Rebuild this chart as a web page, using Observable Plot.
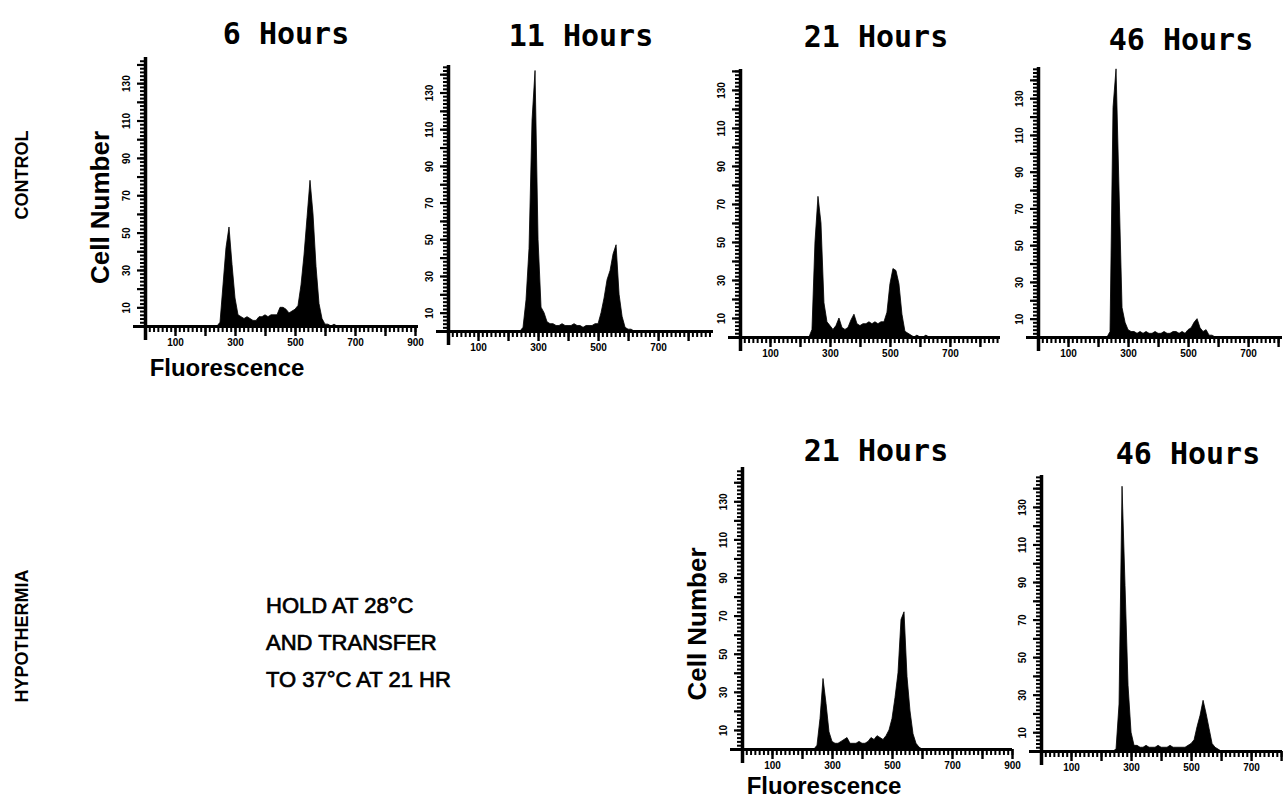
<!DOCTYPE html>
<html>
<head>
<meta charset="utf-8">
<script src="https://cdn.jsdelivr.net/npm/d3@7"></script>
<script src="https://cdn.jsdelivr.net/npm/@observablehq/plot@0.6"></script>
<style>
  body { margin: 0; background: #fff; }
  #fig { position: relative; width: 1284px; height: 802px; overflow: hidden; background: #fff; }
  #fig svg { position: absolute; }
</style>
</head>
<body>
<div id="fig"></div>
<script>
// Fluorescence channel at the start of each 10-channel bin (200 … 650)
const channels = d3.range(200, 660, 10);

// Cell counts per bin, one histogram per sample
const control6h = [
  0, 0, 0, 0, 0, 2, 22, 42, 53, 33,
  15, 6, 5, 4, 5, 4, 3, 3, 5, 5,
  6, 5, 6, 6, 6, 10, 10, 9, 7, 8,
  9, 11, 22, 38, 58, 78, 60, 32, 12, 4,
  1, 1, 0, 1, 0, 0
];
const control11h = [
  0, 0, 0, 0, 0, 2, 17, 45, 115, 142,
  50, 13, 10, 5, 4, 4, 3, 3, 4, 3,
  3, 3, 4, 3, 3, 2, 3, 3, 3, 4,
  4, 10, 18, 28, 33, 42, 47, 20, 8, 2,
  1, 1, 0, 0, 0, 0
];
const control21h = [
  0, 0, 0, 0, 4, 50, 74, 60, 18, 8,
  6, 4, 6, 10, 5, 4, 5, 9, 12, 7,
  6, 7, 7, 8, 7, 8, 7, 8, 8, 13,
  28, 36, 35, 28, 12, 3, 2, 1, 0, 1,
  0, 0, 1, 0, 0, 0
];
const control46h = [
  0, 0, 0, 0, 3, 125, 146, 80, 16, 8,
  4, 3, 3, 2, 3, 2, 3, 2, 2, 3,
  2, 2, 3, 2, 2, 3, 3, 2, 3, 2,
  4, 5, 8, 10, 5, 3, 4, 1, 1, 0,
  0, 0, 0, 0, 0, 0
];
const hypo21h = [
  0, 0, 0, 0, 0, 2, 16, 37, 24, 9,
  4, 3, 3, 4, 5, 6, 3, 3, 3, 4,
  3, 3, 4, 6, 5, 7, 6, 5, 7, 10,
  16, 27, 40, 68, 72, 38, 20, 8, 3, 1,
  0, 0, 0, 0, 0, 0
];
const hypo46h = [
  0, 0, 0, 0, 0, 1, 25, 141, 88, 35,
  10, 3, 3, 2, 2, 3, 2, 2, 2, 3,
  2, 2, 2, 3, 2, 2, 2, 2, 2, 3,
  4, 6, 13, 19, 27, 20, 12, 4, 2, 1,
  0, 0, 0, 0, 0, 0
];

// Texts
const timeLabels = ["6 Hours", "11 Hours", "21 Hours", "46 Hours", "21 Hours", "46 Hours"];
const xTickLabels = [100, 300, 500, 700, 900];
const yTickLabels = [10, 30, 50, 70, 90, 110, 130];
const rowLabels = ["CONTROL", "HYPOTHERMIA"];
const protocolNote = ["HOLD AT 28°C", "AND TRANSFER", "TO 37°C AT 21 HR"];
const xTitle = "Fluorescence";
const yTitle = "Cell Number";

// Panel frames on the page (pixels) and scale extents
const panels = [
  {counts: control6h,  label: 0, left: 145,  top: 57,  right: 418,  bottom: 326, xMax: 910, yMax: 144, titleX: 286,  titleY: 44,  axisTitles: true, xTitleGap: 50},
  {counts: control11h, label: 1, left: 448,  top: 65,  right: 713,  bottom: 331, xMax: 883, yMax: 145, titleX: 581,  titleY: 46},
  {counts: control21h, label: 2, left: 740,  top: 69,  right: 1000, bottom: 337, xMax: 867, yMax: 141, titleX: 876,  titleY: 47},
  {counts: control46h, label: 3, left: 1038, top: 67,  right: 1282, bottom: 337, xMax: 813, yMax: 147, titleX: 1181, titleY: 50},
  {counts: hypo21h,    label: 4, left: 742,  top: 467, right: 1012, bottom: 749, xMax: 900, yMax: 148, titleX: 876,  titleY: 461, axisTitles: true, xTitleGap: 45},
  {counts: hypo46h,    label: 5, left: 1041, top: 475, right: 1282, bottom: 751, xMax: 803, yMax: 147, titleX: 1188, titleY: 464}
];

const fig = d3.select("#fig");
const ml = 44, mr = 2, mt = 2, mb = 34;

for (const p of panels) {
  const data = channels.map((c, j) => ({channel: c, cells: p.counts[j]}));
  const w = p.right - p.left, h = p.bottom - p.top;
  const xMinor = d3.range(0, p.xMax + 0.01, 100 / 7);
  const xMajor = d3.range(0, p.xMax + 0.01, 100);
  const yMinor = d3.range(0, p.yMax, 2);
  const yMajor = d3.range(0, p.yMax, 10);

  const chart = Plot.plot({
    width: w + ml + mr,
    height: h + mt + mb,
    marginLeft: ml, marginRight: mr, marginTop: mt, marginBottom: mb,
    style: {background: "transparent", color: "black", fontFamily: "'Liberation Sans', Arial, sans-serif", fontSize: "10px", fontWeight: "bold", overflow: "visible"},
    x: {domain: [0, p.xMax], label: null},
    y: {domain: [0, p.yMax], label: null},
    marks: [
      Plot.areaY(data, {x: "channel", y: "cells", fill: "black", stroke: "black", strokeWidth: 0.8, clip: true}),
      Plot.axisX(xMinor, {tickSize: 6, strokeWidth: 2, text: null}),
      Plot.axisX(xMajor, {tickSize: 10, strokeWidth: 2.4, text: null}),
      Plot.axisX(xTickLabels.filter(v => v <= p.xMax), {tickSize: 0, tickPadding: 12, stroke: "black", strokeWidth: 0.4}),
      Plot.axisY(yMinor, {tickSize: 5, strokeWidth: 2, text: null}),
      Plot.axisY(yMajor, {tickSize: 8, strokeWidth: 2.2, text: null}),
      Plot.axisY(yTickLabels.filter(v => v <= p.yMax), {tickSize: 0, tickPadding: 16, tickRotate: -90, stroke: "black", strokeWidth: 0.4}),
      Plot.ruleX([0], {strokeWidth: 3.5, insetBottom: -14}),
      Plot.ruleY([0], {strokeWidth: 3, insetLeft: -12})
    ]
  });
  chart.style.left = (p.left - ml) + "px";
  chart.style.top = (p.top - mt) + "px";
  fig.node().appendChild(chart);
}

// Titles, row labels, axis titles and the protocol note
const ov = fig.append("svg")
  .attr("width", 1284).attr("height", 802)
  .style("left", "0px").style("top", "0px")
  .style("pointer-events", "none");

for (const p of panels) {
  ov.append("text")
    .attr("x", p.titleX).attr("y", p.titleY)
    .attr("text-anchor", "middle")
    .attr("font-family", "'DejaVu Sans Mono', monospace")
    .attr("font-weight", "bold").attr("font-size", 30)
    .text(timeLabels[p.label]);
  if (p.axisTitles) {
    ov.append("text")
      .attr("transform", `translate(${p.left - 36},${(p.top + p.bottom) / 2 + 16}) rotate(-90)`)
      .attr("text-anchor", "middle")
      .attr("font-family", "'Liberation Sans', Arial, sans-serif")
      .attr("font-weight", "bold").attr("font-size", 26)
      .text(yTitle);
    ov.append("text")
      .attr("x", p.left + 82).attr("y", p.bottom + p.xTitleGap)
      .attr("text-anchor", "middle")
      .attr("font-family", "'Liberation Sans', Arial, sans-serif")
      .attr("font-weight", "bold").attr("font-size", 24)
      .text(xTitle);
  }
}

const rowCenters = [175, 636];
rowLabels.forEach((t, i) => {
  ov.append("text")
    .attr("transform", `translate(28,${rowCenters[i]}) rotate(-90)`)
    .attr("text-anchor", "middle")
    .attr("font-family", "'Liberation Sans', Arial, sans-serif")
    .attr("font-weight", "bold").attr("font-size", 18)
    .text(t);
});

protocolNote.forEach((t, i) => {
  ov.append("text")
    .attr("x", 266).attr("y", 613 + i * 37)
    .attr("font-family", "'Liberation Sans', Arial, sans-serif")
    .attr("font-size", 22)
    .attr("stroke", "black").attr("stroke-width", 0.7)
    .text(t);
});
</script>
</body>
</html>
